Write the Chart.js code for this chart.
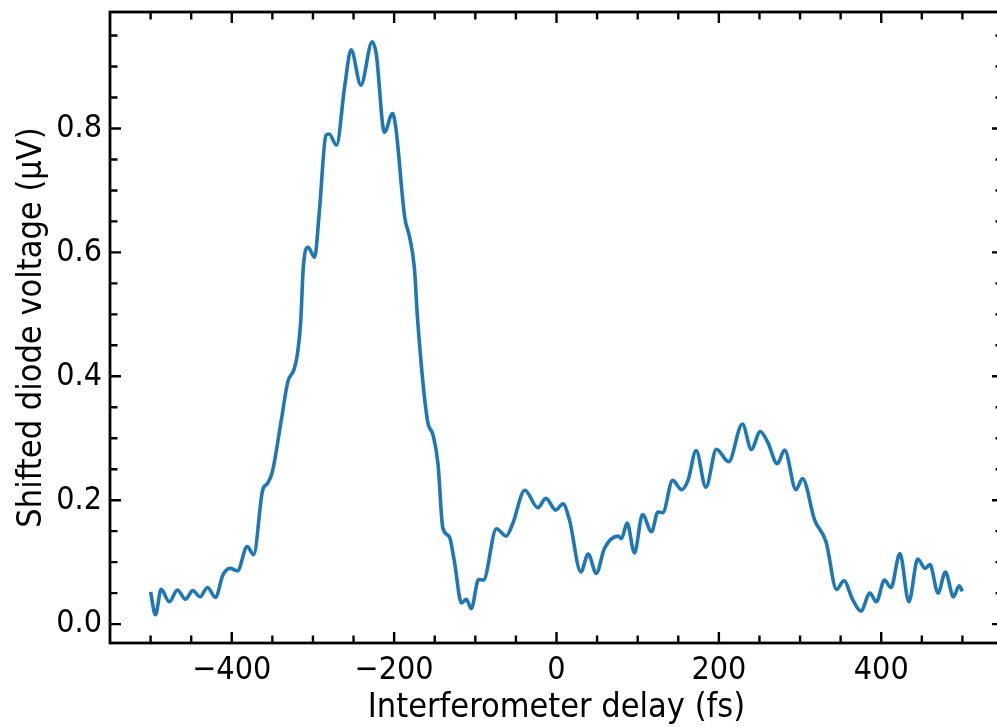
<!DOCTYPE html>
<html>
<head>
<meta charset="utf-8">
<script src="https://cdn.jsdelivr.net/npm/chart.js@4.4.1/dist/chart.umd.min.js"></script>
<style>
  html, body { margin: 0; padding: 0; overflow: hidden; background: #fff; }
  #wrap { width: 1010px; height: 727px; }
</style>
</head>
<body>
<div id="wrap"><canvas id="delayChart" width="1010" height="727"></canvas></div>
<script>
// Data (delay fs, tegangan uV)
const delays = [
  -500, -494, -487, -477, -467, -457, -448, -439, -430, -420,
  -411, -402, -393, -381, -373, -362, -356, -350, -339, -331,
  -323, -319, -315, -312, -306, -298, -292, -284, -280, -271,
  -261, -253, -241, -227, -222, -212, -202, -198, -187, -181,
  -175, -171, -159, -152, -146, -140, -132, -126, -117, -111,
  -105, -96, -90, -74, -62, -54, -39, -23, -13, -1,
  8, 16, 30, 39, 49, 59, 76, 80, 87, 96,
  106, 117, 125, 131, 143, 154, 162, 172, 184, 197,
  212, 229, 240, 251, 260, 272, 281, 295, 303, 318,
  332, 345, 354, 365, 375, 386, 394, 404, 412, 423,
  434, 445, 454, 460, 470, 479, 489, 496, 500
];
const voltages = [
  0.052, 0.015, 0.056, 0.036, 0.055, 0.040, 0.054, 0.044, 0.059, 0.043,
  0.079, 0.090, 0.086, 0.125, 0.112, 0.216, 0.227, 0.246, 0.329, 0.391,
  0.412, 0.437, 0.490, 0.574, 0.608, 0.592, 0.668, 0.789, 0.791, 0.773,
  0.867, 0.927, 0.870, 0.940, 0.920, 0.794, 0.824, 0.802, 0.657, 0.625,
  0.574, 0.490, 0.329, 0.305, 0.259, 0.155, 0.141, 0.103, 0.034, 0.040,
  0.025, 0.072, 0.071, 0.154, 0.142, 0.162, 0.216, 0.188, 0.203, 0.184,
  0.194, 0.168, 0.084, 0.113, 0.082, 0.122, 0.142, 0.138, 0.163, 0.115,
  0.177, 0.149, 0.181, 0.180, 0.232, 0.217, 0.232, 0.280, 0.221, 0.282,
  0.262, 0.323, 0.282, 0.311, 0.294, 0.259, 0.281, 0.217, 0.235, 0.168,
  0.133, 0.056, 0.070, 0.039, 0.021, 0.050, 0.036, 0.071, 0.059, 0.114,
  0.036, 0.105, 0.090, 0.096, 0.050, 0.084, 0.044, 0.062, 0.053
];
const xTickLabels = [-400, -200, 0, 200, 400];
const yTickLabels = [0.0, 0.2, 0.4, 0.6, 0.8];

const FONT = "'DejaVu Sans Condensed', 'DejaVu Sans', sans-serif";

// Tick ke dalam di keempat sisi + garis tepi
const frameTicks = {
  id: "frameTicks",
  afterDatasetsDraw(chart) {
    const { ctx, chartArea: a, scales } = chart;
    const xs = scales.x, ys = scales.y;
    ctx.save();
    ctx.strokeStyle = "#000";
    ctx.lineCap = "butt";
    ctx.lineWidth = 2.4;
    ctx.beginPath();
    for (let v = -500; v <= 500; v += 50) {
      const px = xs.getPixelForValue(v);
      const len = v % 200 === 0 ? 11 : 7.5;
      ctx.moveTo(px, a.bottom); ctx.lineTo(px, a.bottom - len);
      ctx.moveTo(px, a.top); ctx.lineTo(px, a.top + len);
    }
    for (let i = 0; i <= 19; i++) {
      const v = i * 0.05;
      const py = ys.getPixelForValue(v);
      const len = i % 4 === 0 ? 11 : 7.5;
      ctx.moveTo(a.left, py); ctx.lineTo(a.left + len, py);
      ctx.moveTo(a.right, py); ctx.lineTo(a.right - len, py);
    }
    ctx.stroke();
    ctx.lineWidth = 2.8;
    ctx.strokeRect(a.left, a.top, a.right - a.left, a.bottom - a.top);
    ctx.restore();
  },
};

const ctx = document.getElementById("delayChart").getContext("2d");
new Chart(ctx, {
  type: "line",
  data: {
    datasets: [
      {
        data: delays.map((d, i) => ({ x: d, y: voltages[i] })),
        borderColor: "#1f77b4",
        borderWidth: 3.6,
        pointRadius: 0,
        cubicInterpolationMode: "monotone",
        fill: false,
      },
    ],
  },
  options: {
    responsive: false,
    animation: false,
    layout: { padding: { top: 12, right: 7, left: 0, bottom: 0 } },
    plugins: { legend: { display: false }, tooltip: { enabled: false } },
    scales: {
      x: {
        type: "linear",
        min: -550,
        max: 550,
        grid: { display: false, drawTicks: false },
        border: { display: false },
        afterBuildTicks: (s) => { s.ticks = xTickLabels.map((v) => ({ value: v })); },
        afterFit: (s) => {
          s.height = 84;
          s.paddingLeft = 0; s.paddingRight = 0;
        },
        ticks: {
          padding: 8,
          color: "#000",
          font: { family: FONT, size: 32 },
          maxRotation: 0,
          callback: (v) => (v < 0 ? "\u2212" + Math.abs(v) : String(v)),
        },
        title: {
          display: true,
          text: "Interferometer delay (fs)",
          color: "#000",
          font: { family: FONT, size: 34 },
          padding: { top: 0, bottom: -2 },
        },
      },
      y: {
        type: "linear",
        min: -0.0305,
        max: 0.988,
        grid: { display: false, drawTicks: false },
        border: { display: false },
        afterBuildTicks: (s) => { s.ticks = yTickLabels.map((v) => ({ value: v })); },
        afterFit: (s) => {
          s.width = 110;
          s.paddingTop = 0; s.paddingBottom = 0;
        },
        ticks: {
          padding: 8,
          color: "#000",
          font: { family: FONT, size: 32 },
          callback: (v) => v.toFixed(1),
        },
        title: {
          display: true,
          text: "Shifted diode voltage (\u03bcV)",
          color: "#000",
          font: { family: FONT, size: 34 },
          padding: { top: 12, bottom: 0 },
        },
      },
    },
  },
  plugins: [frameTicks],
});
</script>
</body>
</html>
